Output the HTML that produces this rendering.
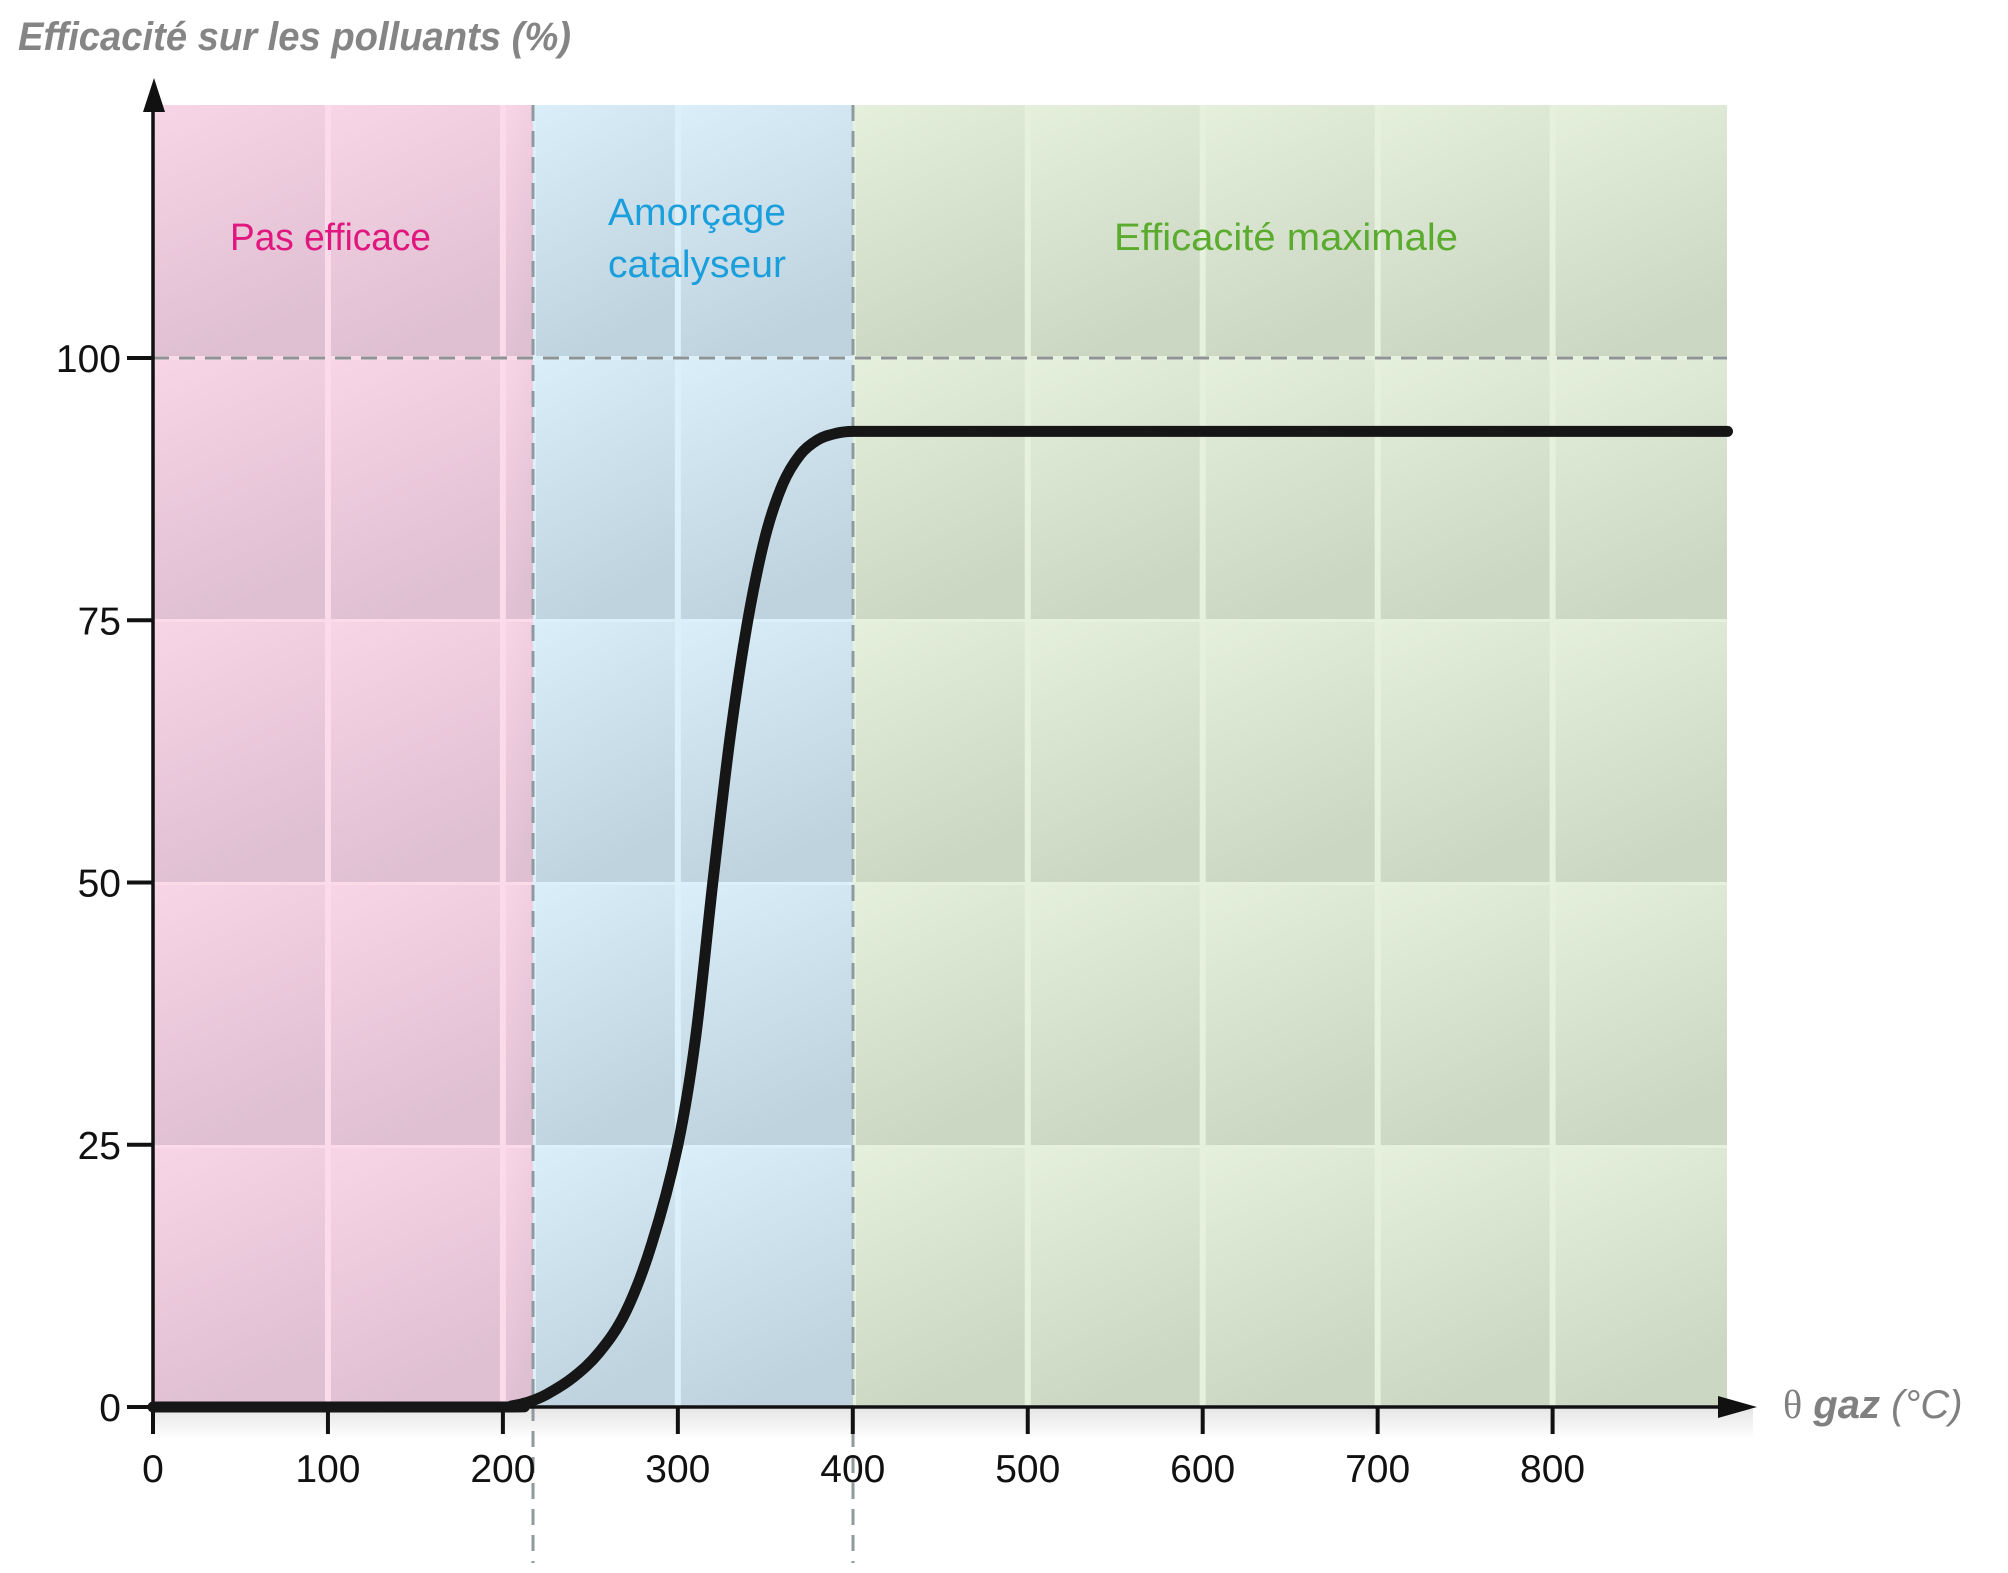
<!DOCTYPE html>
<html><head><meta charset="utf-8"><style>
html,body{margin:0;padding:0;background:#fff;}
svg{display:block;}
text{font-family:"Liberation Sans",sans-serif;}
</style></head><body>
<svg id="s" width="2008" height="1573" viewBox="0 0 2008 1573" xmlns="http://www.w3.org/2000/svg">
<defs>
<linearGradient id="gp" x1="0" y1="0" x2="0.3" y2="1"><stop offset="0" stop-color="#f8d5e6"/><stop offset="1" stop-color="#dfbfd2"/></linearGradient>
<linearGradient id="gb" x1="0" y1="0" x2="0.3" y2="1"><stop offset="0" stop-color="#d9eef8"/><stop offset="1" stop-color="#bfd3df"/></linearGradient>
<linearGradient id="gg" x1="0" y1="0" x2="0.3" y2="1"><stop offset="0" stop-color="#e5f0dc"/><stop offset="1" stop-color="#cbd7c3"/></linearGradient>
<linearGradient id="sh" x1="0" y1="0" x2="0" y2="1"><stop offset="0" stop-color="#e6e6e6"/><stop offset="1" stop-color="#ffffff"/></linearGradient>
</defs>
<g id="cells"></g>
<rect x="153" y="1409" width="1600" height="30" fill="url(#sh)"/>
<line x1="153" y1="358" x2="1727" y2="358" stroke="#8e9496" stroke-width="3" stroke-dasharray="16,10"/>
<line x1="533" y1="105" x2="533" y2="1563" stroke="#8e9a9e" stroke-width="3" stroke-dasharray="16,10"/>
<line x1="853" y1="105" x2="853" y2="1563" stroke="#8e9a9e" stroke-width="3" stroke-dasharray="16,10"/>
<line x1="153" y1="1407" x2="153" y2="100" stroke="#111" stroke-width="3.5"/>
<polygon points="143,112 154,78 165,112" fill="#111"/>
<line x1="153" y1="1407" x2="1730" y2="1407" stroke="#111" stroke-width="3.5"/>
<polygon points="1718,1396 1757,1407 1718,1418" fill="#111"/>
<g id="ticks" stroke="#111" stroke-width="4"></g>
<g id="labels" font-size="39" fill="#111"></g>
<path id="curve" fill="none" stroke="#161616" stroke-width="11" stroke-linecap="round" stroke-linejoin="round"/>
<text x="18" y="50" font-size="40" font-style="italic" font-weight="bold" fill="#858585" textLength="553" lengthAdjust="spacingAndGlyphs">Efficacité sur les polluants (%)</text>
<text x="230" y="250" font-size="38" fill="#e0177e" textLength="201" lengthAdjust="spacingAndGlyphs">Pas efficace</text>
<text x="608" y="225" font-size="38" fill="#1a9fdc" textLength="178" lengthAdjust="spacingAndGlyphs">Amorçage</text>
<text x="608" y="277" font-size="38" fill="#1a9fdc" textLength="178" lengthAdjust="spacingAndGlyphs">catalyseur</text>
<text x="1114" y="250" font-size="38" fill="#5aab2e" textLength="344" lengthAdjust="spacingAndGlyphs">Efficacité maximale</text>
<text x="1783" y="1418" font-size="40" fill="#808080"><tspan font-family="Liberation Serif, serif">θ</tspan> <tspan font-style="italic" font-weight="bold">gaz</tspan><tspan font-style="italic"> (°C)</tspan></text>
</svg>
<script>
var NS="http://www.w3.org/2000/svg";
function el(p,t,a){var e=document.createElementNS(NS,t);for(var k in a)e.setAttribute(k,a[k]);p.appendChild(e);return e;}
var X=function(v){return 153+v*1.7495;}, Y=function(v){return 1407-v*10.49;};
var cells=document.getElementById('cells');
var cols=[0,100,200,217,300,400,500,600,700,800,900];
var rows=[105,358,620,883,1146,1407];
var gapc={p:"#fbdaea",b:"#dcf0fa",g:"#e6f1dd"};
el(cells,'rect',{x:153,y:105,width:380,height:1302,fill:gapc.p});
el(cells,'rect',{x:533,y:105,width:320,height:1302,fill:gapc.b});
el(cells,'rect',{x:853,y:105,width:874,height:1302,fill:gapc.g});
for(var i=0;i<cols.length-1;i++){
  var x0=(cols[i]==217?533:(cols[i]==400?853:X(cols[i]))), x1=(cols[i+1]==217?533:(cols[i+1]==400?853:(cols[i+1]==900?1727:X(cols[i+1]))));
  var reg=cols[i]<217?'p':(cols[i]<400?'b':'g');
  var l=x0+(cols[i]==0?0:3), r=x1-(cols[i+1]==900||cols[i+1]==217||cols[i+1]==400?0:3);
  for(var j=0;j<rows.length-1;j++){
    el(cells,'rect',{x:l,y:rows[j]+(j==0?0:2),width:r-l,height:rows[j+1]-rows[j]-(j==0?2:3),fill:'url(#g'+reg+')'});
  }
}
var tk=document.getElementById('ticks'), lb=document.getElementById('labels');
for(var v=0;v<=800;v+=100){el(tk,'line',{x1:X(v),y1:1407,x2:X(v),y2:1434});var t=el(lb,'text',{x:X(v),y:1482,'text-anchor':'middle'});t.textContent=v;}
for(var v=0;v<=100;v+=25){el(tk,'line',{x1:127,y1:Y(v),x2:153,y2:Y(v)});var t=el(lb,'text',{x:121,y:Y(v)+14,'text-anchor':'end'});t.textContent=v;}
// smooth curve via sampled function
var pts=[[0,0],[195,0],[205,0.1],[215,0.5],[225,1.2],[240,2.8],[255,5.2],[270,9],[285,15.5],[300,25],[310,35],[320,50],[330,64],[340,75],[350,83],[360,88],[370,90.8],[380,92.2],[390,92.8],[400,93],[900,93]];
var P=pts.map(function(p){return [X(p[0]),Y(p[1])];});
var d='M'+P[0][0].toFixed(1)+','+P[0][1].toFixed(1);
for(var i=0;i<P.length-1;i++){
  var p0=P[Math.max(0,i-1)],p1=P[i],p2=P[i+1],p3=P[Math.min(P.length-1,i+2)];
  if(i==0||i==P.length-2){d+=' L'+p2[0].toFixed(1)+','+p2[1].toFixed(1);continue;}
  var c1=[p1[0]+(p2[0]-p0[0])/6,p1[1]+(p2[1]-p0[1])/6],c2=[p2[0]-(p3[0]-p1[0])/6,p2[1]-(p3[1]-p1[1])/6];
  if(i==P.length-3){c2=[p2[0]-(p2[0]-p1[0])/3,p2[1]];}
  d+=' C'+c1[0].toFixed(1)+','+c1[1].toFixed(1)+' '+c2[0].toFixed(1)+','+c2[1].toFixed(1)+' '+p2[0].toFixed(1)+','+p2[1].toFixed(1);
}
document.getElementById('curve').setAttribute('d',d);
</script>
</body></html>
